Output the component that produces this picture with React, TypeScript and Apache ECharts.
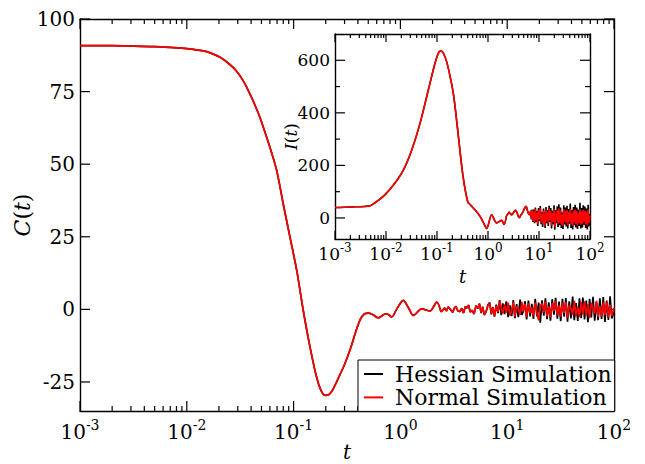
import React, { useEffect, useRef } from "react";
import * as echarts from "echarts";

const FONT = "DejaVu Serif";

// Main panel C(t): smooth part
const mainBaseT = [0.001, 0.002, 0.003, 0.005, 0.007, 0.01, 0.0143, 0.0175, 0.0205, 0.025, 0.0293, 0.034, 0.039, 0.0435, 0.0484, 0.054, 0.06, 0.0695, 0.08, 0.0925, 0.107, 0.123, 0.1425, 0.164, 0.18, 0.197, 0.215, 0.23, 0.26, 0.3, 0.337, 0.38, 0.42, 0.46, 0.5, 0.55, 0.62, 0.7, 0.745, 0.83, 0.92, 1.065, 1.2, 1.32, 1.58, 1.89, 2.19, 2.4];
const mainBaseC = [90.8, 90.8, 90.7, 90.5, 90.2, 89.8, 89.0, 88.0, 86.8, 84.5, 82.0, 78.5, 74.2, 70.3, 66.1, 61.0, 55.8, 47.8, 36.3, 24.9, 13.4, -0.3, -13, -23.3, -27.8, -29.6, -29.3, -28.0, -24, -19, -14, -8, -3.5, -1.6, -1.3, -1.8, -2.9, -1.8, -1.5, -2.6, 0, 3.1, 0.3, -2.1, 0.2, -0.6, 2.5, -0.9];

// Inset I(t): smooth part
const insetBaseT = [0.001, 0.002, 0.0049, 0.0065, 0.0095, 0.015, 0.022, 0.032, 0.0465, 0.0676, 0.091, 0.105, 0.112, 0.118, 0.125, 0.135, 0.155, 0.18, 0.209, 0.235, 0.263, 0.324, 0.4, 0.45, 0.556, 0.7, 0.85, 0.94, 1.0, 1.18, 1.48, 1.86, 2.06, 2.3];
const insetBaseI = [40, 42, 46.7, 62, 88, 133, 183, 259, 360, 487, 588, 625, 633, 636, 634, 625, 594, 540, 474, 395, 310, 158, 62, 50, 31, 6, -25, -40, -30, 12.5, -19, -9, -25, 8];

// Long-time fluctuating part (shared time grid)
const noiseT = [
  2.6, 2.7, 2.8, 2.9, 3.0, 3.1, 3.2, 3.3, 3.45, 3.6,
  3.75, 3.9, 4.05, 4.2, 4.35, 4.5, 4.7, 4.9, 5.1, 5.3,
  5.5, 5.7, 5.9, 6.1, 6.35, 6.6, 6.85, 7.1, 7.35, 7.6,
  7.9, 8.2, 8.5, 8.8, 9.1, 9.45, 9.8, 10.2, 10.6, 11.0,
  11.4, 11.8, 12.25, 12.7, 13.2, 13.7, 14.2, 14.7, 15.2, 15.8,
  16.4, 17.0, 17.6, 18.3, 19.0, 19.7, 20.4, 21.2, 22.0, 22.8,
  23.6, 24.5, 25.4, 26.4, 27.4, 28.4, 29.5, 30.6, 31.7, 32.9,
  34.1, 35.4, 36.7, 38.1, 39.5, 41.0, 42.5, 44.1, 45.8, 47.5,
  49.3, 51.1, 53.0, 55.0, 57.0, 59.1, 61.3, 63.6, 66.0, 68.5,
  71.0, 73.7, 76.5, 79.3, 82.3, 85.4, 88.6, 91.9, 95.3, 100,
];
const cNormNoise = [
  0.4, -0.6, 0.8, 0.3, -0.4, -0.9, 0.5, 1.1, -0.4, -0.7,
  0.3, -1.2, 0.9, 0.5, 1.4, -0.8, -0.3, -1.5, 1.2, 0.4,
  1.9, -1.1, 0.7, -1.8, -0.6, 1.3, 2.2, -1.5, 0.6, -2.3,
  1.2, -0.9, 3.0, 0.4, -1.4, 1.7, -1.1, 2.3, -2.2, -0.6,
  2.5, -2.4, 1.0, 0.2, -1.9, 2.6, -0.8, 1.8, -2.7, 2.1,
  -1.3, 0.7, -2.2, 2.4, -1.5, -3.8, 1.3, 2.0, -1.0, 2.7,
  -2.3, 1.1, -2.8, 2.2, -0.6, 2.9, -2.0, 1.4, -2.5, 2.3,
  -1.2, 2.6, -2.9, 1.5, 0.3, -1.8, 3.0, -2.4, 0.9, -2.7,
  2.5, -1.6, 2.8, -2.1, 1.7, -3.0, 2.2, 0.4, -1.4, 2.9,
  -2.6, 1.2, -2.3, 2.4, -1.9, 2.7, -2.8, 1.6, -2.2, 0.5,
];
const cHessNoise = [
  0.5, -0.5, 0.9, 0.2, -0.5, -1.0, 0.4, 1.0, -0.5, -0.8,
  0.4, -1.3, 1.0, 0.4, 1.5, -0.9, -0.4, -1.6, 1.3, 0.3,
  2.0, -1.3, 0.9, -2.0, -0.8, 1.5, 2.4, -1.7, 0.8, -2.5,
  1.6, -1.3, 3.2, -2.0, 2.1, -1.6, 2.8, -2.7, 1.4, -2.3,
  3.2, -3.0, 1.8, -2.7, 3.4, -1.9, -0.6, 2.8, -3.5, 3.0,
  -2.4, 1.9, -3.3, 3.6, -2.4, 2.3, -4.6, 3.1, -2.2, 3.8,
  -3.4, 2.4, -3.9, 3.5, -1.8, 4.0, -3.2, 2.7, -4.1, 3.6,
  -2.5, 3.9, -4.2, 2.8, -3.1, 4.4, -3.7, 2.2, -4.0, 3.8,
  -3.0, 4.1, -3.5, 3.0, -4.4, 3.6, -2.8, 4.3, -3.9, 2.6,
  -3.7, 3.8, -3.3, 4.2, -4.3, 3.0, -3.6, 4.5, -3.1, -1.0,
];
const iNormNoise = [
  22, 18, 14, 12, 14, 18, 22, 26, 29, 26,
  18, 8, 1, 3, 9, 14, 18, 25, 33, 40,
  44, 42, 30, 20, 14, 12, 26, -4, 30, -12,
  25, -15, 35, -8, 20, -22, 30, -5, 38, -18,
  15, -25, 28, 2, -30, 32, -12, 22, -20, 35,
  -8, 26, -28, 18, -15, 34, -35, 20, -10, 30,
  -22, 36, -18, 28, -26, 12, -30, 33, -14, 26,
  -20, 30, -27, 22, -12, 35, -25, 18, -30, 28,
  -16, 32, -24, 26, -28, 20, -18, 34, -26, 24,
  -22, 30, -14, 28, -24, 22, -28, 32, -20, 10,
];
const iHessNoise = [
  23, 17, 15, 11, 15, 17, 23, 25, 30, 25,
  19, 7, 2, 2, 10, 13, 19, 24, 34, 39,
  45, 41, 31, 19, 15, 11, 28, -6, 32, -15,
  32, -20, 40, -14, 26, -30, 38, -12, 45, -24,
  22, -34, 36, 8, -38, 42, -20, 30, -30, 46,
  -15, 38, -40, 28, -24, 48, -45, 30, -20, 44,
  -34, 52, -28, 40, -38, 22, -42, 48, -25, 40,
  -32, 46, -40, 34, -22, 55, -38, 30, -44, 42,
  -28, 50, -36, 40, -42, 32, -30, 58, -40, 38,
  -36, 48, -26, 44, -38, 36, -44, 50, -32, 15,
];

const decades = [0.001, 0.01, 0.1, 1, 10, 100];
const minorMultipliers = [2, 3, 4, 5, 6, 7, 8, 9];
const mainYTicks = [-25, 0, 25, 50, 75, 100];
const insetYTicks = [0, 200, 400, 600];
const insetYMinor = [100, 300, 500];
const seriesNames = ["Hessian Simulation", "Normal Simulation"];

const minorLog = decades.slice(0, -1).flatMap((d) => minorMultipliers.map((k) => k * d));

function pairs(t: number[], v: number[]) {
  return t.map((x, i) => [x, v[i]]);
}

const AXIS_LINE = { color: "#000", width: 1.4 };

function logAxis(grid: number, position: string, o: any) {
  return {
    type: "log",
    logBase: 10,
    gridIndex: grid,
    position,
    min: 0.001,
    max: 100,
    splitLine: { show: false },
    axisLine: { show: true, onZero: false, lineStyle: AXIS_LINE },
    axisTick: { show: false },
    axisLabel: o.labels
      ? {
          show: true,
          customValues: decades,
          margin: o.margin,
          formatter: (v: number) => `{b|10}{s|${Math.round(Math.log10(v))}}`,
          rich: {
            b: { fontFamily: FONT, fontSize: o.big, lineHeight: o.big, padding: [o.pad, 0, 0, 0], color: "#000" },
            s: { fontFamily: FONT, fontSize: o.small, lineHeight: o.small, verticalAlign: "top", color: "#000" },
          },
        }
      : { show: false },
    name: o.name,
    nameLocation: "middle",
    nameGap: o.nameGap,
    nameMoveOverlap: false,
    nameTextStyle: {
      color: "#000",
      fontFamily: FONT,
      fontStyle: "italic",
      fontSize: o.nameSize,
      lineHeight: o.nameLH,
      verticalAlign: "top",
    },
  };
}

function valAxis(grid: number, position: string, o: any) {
  return {
    type: "value",
    gridIndex: grid,
    position,
    min: o.min,
    max: o.max,
    splitLine: { show: false },
    axisLine: { show: true, onZero: false, lineStyle: AXIS_LINE },
    axisTick: { show: false },
    axisLabel: o.labels
      ? { show: true, customValues: o.ticks, margin: o.margin, fontFamily: FONT, fontSize: o.fontSize, color: "#000" }
      : { show: false },
    name: o.name,
    nameLocation: "middle",
    nameGap: o.nameGap,
    nameMoveOverlap: false,
    nameRotate: 90,
    nameTextStyle: {
      color: "#000",
      rich: {
        i: { fontFamily: FONT, fontStyle: "italic", fontSize: o.nameSize, color: "#000" },
        n: { fontFamily: FONT, fontSize: o.nameSize, color: "#000" },
      },
    },
  };
}

// Inward tick marks drawn through the axes' own scales (custom series)
function tickSeries(xi: number, yi: number, values: number[], dir: "x" | "y", other: number, len: number) {
  return {
    type: "custom",
    xAxisIndex: xi,
    yAxisIndex: yi,
    silent: true,
    clip: false,
    z: 2,
    data: values.map((v) => (dir === "x" ? [v, other] : [other, v])),
    renderItem: (params: any, api: any) => {
      const cs = params.coordSys;
      const p = api.coord([api.value(0), api.value(1)]);
      const st = { stroke: "#000", lineWidth: 1.2 };
      if (dir === "x") {
        const x = p[0];
        const yb = cs.y + cs.height;
        const yt = cs.y;
        return {
          type: "group",
          children: [
            { type: "line", shape: { x1: x, y1: yb, x2: x, y2: yb - len }, style: st },
            { type: "line", shape: { x1: x, y1: yt, x2: x, y2: yt + len }, style: st },
          ],
        };
      }
      const y = p[1];
      const xl = cs.x;
      const xr = cs.x + cs.width;
      return {
        type: "group",
        children: [
          { type: "line", shape: { x1: xl, y1: y, x2: xl + len, y2: y }, style: st },
          { type: "line", shape: { x1: xr, y1: y, x2: xr - len, y2: y }, style: st },
        ],
      };
    },
  };
}

export default function App() {
  const ref = useRef<HTMLDivElement>(null);
  useEffect(() => {
    if (!ref.current) return;
    const chart = echarts.init(ref.current, undefined, { renderer: "svg" });

    const mainBase = pairs(mainBaseT, mainBaseC);
    const insetBase = pairs(insetBaseT, insetBaseI);
    const tail = (base: number[][], t: number[], v: number[]) => [base[base.length - 1]].concat(pairs(t, v));

    const line = (name: string, color: string, data: any[], xi: number, yi: number, w: number, smooth: number) => ({
      type: "line",
      name,
      data,
      xAxisIndex: xi,
      yAxisIndex: yi,
      symbol: "none",
      showSymbol: false,
      smooth,
      lineStyle: { color, width: w },
      itemStyle: { color },
      emphasis: { disabled: true },
      z: 3,
    });

    chart.setOption({
      animation: false,
      backgroundColor: "#fff",
      textStyle: { fontFamily: FONT },
      grid: [
        { left: 80, top: 19, width: 534, height: 392, outerBoundsMode: "none", containLabel: false },
        {
          left: 335, top: 34, width: 255, height: 205, show: true, backgroundColor: "#fff", borderWidth: 0,
          outerBoundsMode: "none", containLabel: false,
        },
      ],
      xAxis: [
        logAxis(0, "bottom", { labels: true, margin: 7, big: 20, small: 14, pad: 7, name: "t", nameGap: 31, nameSize: 20, nameLH: 20 }),
        logAxis(0, "top", { labels: false }),
        logAxis(1, "bottom", { labels: true, margin: 3, big: 17, small: 12, pad: 6, name: "t", nameGap: 28, nameSize: 18, nameLH: 18 }),
        logAxis(1, "top", { labels: false }),
      ],
      yAxis: [
        valAxis(0, "left", { min: -35, max: 100, ticks: mainYTicks, labels: true, margin: 5, fontSize: 20, name: "{i|C}{n|(}{i|t}{n|)}", nameGap: 47, nameSize: 22 }),
        valAxis(0, "right", { min: -35, max: 100, labels: false }),
        valAxis(1, "left", { min: -80, max: 700, ticks: insetYTicks, labels: true, margin: 5, fontSize: 17, name: "{i|I}{n|(}{i|t}{n|)}", nameGap: 36, nameSize: 17 }),
        valAxis(1, "right", { min: -80, max: 700, labels: false }),
      ],
      legend: {
        orient: "vertical",
        left: 358,
        top: 360,
        z: 10,
        padding: [3, 3, 3, 6],
        itemGap: 1.4,
        itemWidth: 19,
        itemHeight: 2,
        backgroundColor: "#fff",
        borderColor: "#000",
        borderWidth: 1,
        borderRadius: 0,
        selectedMode: false,
        textStyle: { fontFamily: FONT, fontSize: 22, lineHeight: 22, color: "#000", padding: [0, 0, 0, 7] },
        data: seriesNames.map((n) => ({ name: n, icon: "rect" })),
      },
      series: [
        line(seriesNames[0], "#000000", mainBase, 0, 0, 1.7, 0.3),
        line(seriesNames[0], "#000000", tail(mainBase, noiseT, cHessNoise), 0, 0, 1.7, 0),
        line(seriesNames[1], "#ff0000", mainBase, 0, 0, 1.7, 0.3),
        line(seriesNames[1], "#ff0000", tail(mainBase, noiseT, cNormNoise), 0, 0, 1.7, 0),
        line(seriesNames[0], "#000000", insetBase, 2, 2, 1.6, 0.3),
        line(seriesNames[0], "#000000", tail(insetBase, noiseT, iHessNoise), 2, 2, 1.6, 0),
        line(seriesNames[1], "#ff0000", insetBase, 2, 2, 1.6, 0.3),
        line(seriesNames[1], "#ff0000", tail(insetBase, noiseT, iNormNoise), 2, 2, 1.6, 0),
        tickSeries(0, 0, decades, "x", 0, 10),
        tickSeries(0, 0, minorLog, "x", 0, 5),
        tickSeries(0, 0, mainYTicks, "y", 1, 10),
        tickSeries(2, 2, decades, "x", 0, 8),
        tickSeries(2, 2, minorLog, "x", 0, 4),
        tickSeries(2, 2, insetYTicks, "y", 1, 10),
        tickSeries(2, 2, insetYMinor, "y", 1, 5),
      ],
    });
    return () => chart.dispose();
  }, []);
  return <div ref={ref} style={{ width: 645, height: 464, position: "absolute", left: 0, top: 0 }} />;
}
